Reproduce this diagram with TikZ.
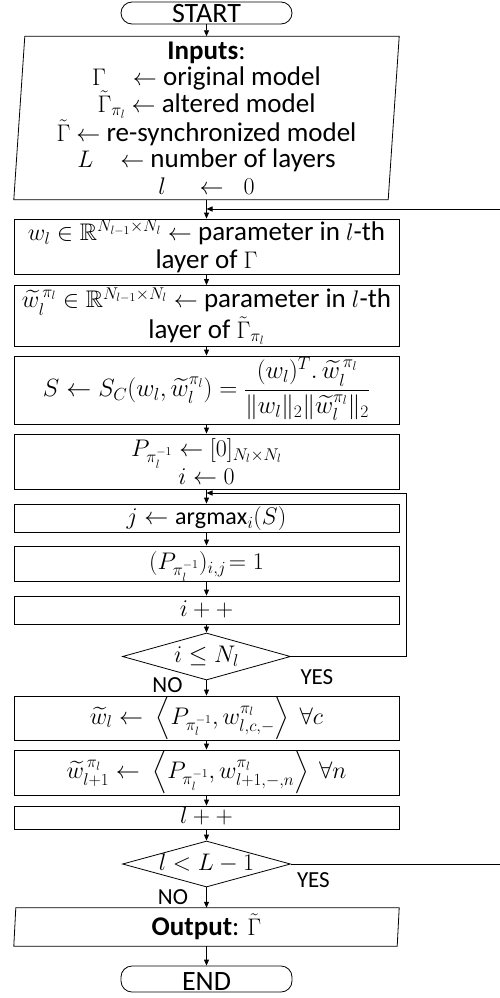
\RequirePackage{fix-cm}
\documentclass[tikz,border=0pt]{standalone}
\usepackage{amsmath,amssymb}
\usepackage{fontspec}
\setmainfont{Carlito}
\DeclareMathSizes{27}{24}{17}{12}
\usetikzlibrary{shapes.geometric,arrows.meta}
\tikzset{
  fz/.style={font=\fontsize{27pt}{28pt}\selectfont},
  base/.style={draw=black, line width=0.8pt, inner sep=0pt, fz},
  box/.style={base, rectangle, minimum width=385pt},
  sl/.style={text height=12pt, text depth=0pt},
  stx/.style={text height=17pt, text depth=0pt},
  term/.style={base, rectangle, rounded corners=11pt, minimum width=171pt, font=\fontsize{28pt}{28pt}\selectfont},
  dec/.style={base, diamond, minimum width=168pt, text height=12pt, text depth=0pt},
  io/.style={rectangle, inner sep=0pt, font=\fontsize{27pt}{26.5pt}\selectfont},
  lab/.style={font=\fontsize{23pt}{23pt}\selectfont, inner sep=0pt},
  arr/.style={-{Triangle[length=6pt,width=5pt]}, line width=0.8pt},
  shape line/.style={line width=0.8pt},
}
\begin{document}
\begin{tikzpicture}[x=1pt,y=-1pt]
\useasboundingbox (0,0) rectangle (500,998);
% terminators
\node[term, minimum height=22pt, text height=20pt, text depth=0pt] (startT) at (206.5,13) {START};
% inputs
\node[io, align=center, minimum width=374pt, minimum height=163pt] (inp) at (206.5,118)
  {\textbf{Inputs}:\\
   $\Gamma$\quad$\leftarrow$ original model\\
   $\tilde{\Gamma}_{\pi_l}$ $\leftarrow$ altered model\\
   $\tilde{\Gamma}$ $\leftarrow$ re-synchronized model\\
   $L$\quad$\leftarrow$ number of layers\\
   $l\quad\leftarrow\enspace 0$};
\draw[shape line] ([xshift=5.5pt]inp.north west) -- ([xshift=5.5pt]inp.north east)
  -- ([xshift=-5.5pt]inp.south east) -- ([xshift=-5.5pt]inp.south west) -- cycle;
\coordinate (j0) at (206.5,209);
% boxes
\node[box, align=center, minimum height=55pt] (b1) at (206.5,246.5)
  {$w_l \in \mathbb{R}^{N_{l-1}\times N_l} \leftarrow$ parameter in $l$-th\\ layer of $\Gamma$};
\node[box, align=center, minimum height=61pt] (b2) at (206.5,316)
  {${\widetilde{w}}_l^{\,\pi_l} \in \mathbb{R}^{N_{l-1}\times N_l} \leftarrow$ parameter in $l$-th\\ layer of $\tilde{\Gamma}_{\pi_l}$};
\node[box, text height=12.5pt, text depth=0pt, minimum height=68pt, font=\fontsize{25pt}{28pt}\selectfont] (b3) at (206.5,390)
  {$S \leftarrow S_C(w_l, {{\widetilde{w}}_l}^{\pi_l}) = \dfrac{(w_l)^T . \,{\widetilde{w}}_l^{\,\pi_l}}{\lVert w_l\rVert_2 \lVert {{\widetilde{w}}_l}^{\pi_l}\rVert_2}$};
\node[box, align=center, minimum height=55pt] (b4) at (206.5,461.5)
  {$P_{\pi_l^{-1}} \leftarrow [0]_{N_l\times N_l}$\\ $i \leftarrow 0$};
\coordinate (j1) at (206.5,493);
\node[box, sl, minimum height=28pt] (b5) at (206.5,518)
  {$j \leftarrow \operatorname{argmax}_i(S)$};
\node[box, sl, minimum height=35pt] (b6) at (206.5,563.5)
  {$(P_{\pi_l^{-1}})_{i,j}\!= 1$};
\node[box, sl, minimum height=28pt] (b7) at (206.5,610)
  {$i + +$};
\node[dec, minimum height=47pt] (d1) at (206.5,656.5)
  {\makebox[0pt]{$i \leq N_l$}};
\node[box, sl, minimum height=44pt] (b8) at (206.5,718)
  {$\widetilde{w}_l \leftarrow\ \left\langle P_{\pi_l^{-1}}, w^{\pi_l}_{l,c,-} \right\rangle\ \forall c$};
\node[box, sl, minimum height=45pt] (b9) at (206.5,772.5)
  {${\widetilde{w}}^{\,\pi_l}_{l+1} \leftarrow\ \left\langle P_{\pi_l^{-1}}, w^{\pi_l}_{l+1,-,n} \right\rangle\ \forall n$};
\node[box, sl, minimum height=23pt] (b10) at (206.5,817.5)
  {$l + +$};
\node[dec, minimum height=46pt] (d2) at (206.5,864)
  {\makebox[0pt]{$l < L - 1$}};
% output
\node[io, stx, minimum width=383pt, minimum height=38pt] (out) at (206.5,927)
  {\textbf{Output}: $\tilde{\Gamma}$};
\draw[shape line] ([xshift=1pt]out.north west) -- ([xshift=1pt]out.north east)
  -- ([xshift=-1pt]out.south east) -- ([xshift=-1pt]out.south west) -- cycle;
\node[term, minimum height=26pt, text height=22pt, text depth=0pt] (endT) at (206.5,979) {END};
% labels
\node[lab] (yes1) at ([shift={(26,20.5)}]d1.east) {YES};
\node[lab] (no1) at ([shift={(-39,4.5)}]d1.south) {NO};
\node[lab] (yes2) at ([shift={(22.5,16)}]d2.east) {YES};
\node[lab] (no2) at ([shift={(-33.5,9.5)}]d2.south) {NO};
% connectors
\draw[arr] (startT) -- (inp);
\draw[arr] (inp) -- (b1);
\draw[arr] (b1) -- (b2);
\draw[arr] (b2) -- (b3);
\draw[arr] (b3) -- (b4);
\draw[arr] (b4) -- (b5);
\draw[arr] (b5) -- (b6);
\draw[arr] (b6) -- (b7);
\draw[arr] (b7) -- (d1);
\draw[arr] (d1) -- (b8);
\draw[arr] (b8) -- (b9);
\draw[arr] (b9) -- (b10);
\draw[arr] (b10) -- (d2);
\draw[arr] (d2) -- (out);
\draw[arr] (out) -- (endT);
\draw[arr] (d1.east) -- ++(115,0) |- (j1);
\draw[arr] (d2.east) -- ++(225,0) |- (j0);
\end{tikzpicture}
\end{document}
